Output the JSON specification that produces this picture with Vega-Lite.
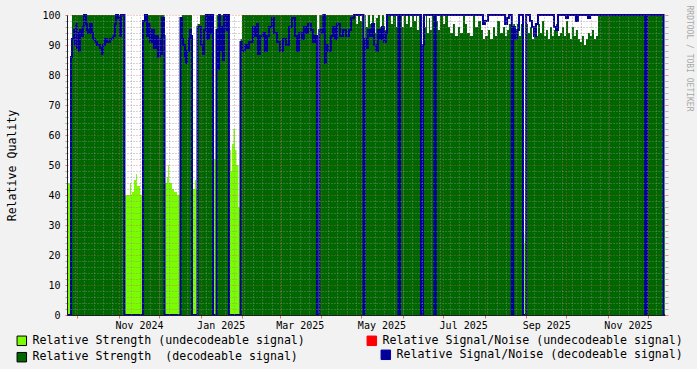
{
"$schema": "https://vega.github.io/schema/vega-lite/v6.json",
"width": 598, "height": 300,
"autosize": "none",
"padding": {"left": 67, "top": 15, "right": 32, "bottom": 54},
"background": "#f2f2f2",
"config": {"view": {"fill": "#ffffff", "stroke": null}, "font": "DejaVu Sans Mono"},
"data": {"values": [
{"t":"2024-09-23T05:00","w":44,"s":0,"n":0},
{"t":"2024-09-26T05:00","w":0,"s":86,"n":86},
{"t":"2024-09-26T22:00","w":0,"s":100,"n":92},
{"t":"2024-09-28T10:00","w":0,"s":100,"n":95},
{"t":"2024-09-29T05:00","w":0,"s":100,"n":90},
{"t":"2024-09-29T22:00","w":0,"s":100,"n":97},
{"t":"2024-09-30T14:00","w":0,"s":100,"n":89},
{"t":"2024-10-01T10:00","w":0,"s":100,"n":94},
{"t":"2024-10-02T02:00","w":0,"s":100,"n":88},
{"t":"2024-10-02T22:00","w":0,"s":100,"n":95},
{"t":"2024-10-04T10:00","w":0,"s":100,"n":93},
{"t":"2024-10-05T02:00","w":0,"s":100,"n":96},
{"t":"2024-10-05T22:00","w":0,"s":100,"n":100},
{"t":"2024-10-07T10:00","w":0,"s":100,"n":97},
{"t":"2024-10-08T02:00","w":0,"s":100,"n":95},
{"t":"2024-10-08T22:00","w":0,"s":100,"n":94},
{"t":"2024-10-10T10:00","w":0,"s":100,"n":97},
{"t":"2024-10-11T19:00","w":0,"s":100,"n":94},
{"t":"2024-10-12T14:00","w":0,"s":100,"n":92},
{"t":"2024-10-14T02:00","w":0,"s":100,"n":91},
{"t":"2024-10-15T14:00","w":0,"s":100,"n":90},
{"t":"2024-10-17T19:00","w":0,"s":100,"n":89},
{"t":"2024-10-19T07:00","w":0,"s":100,"n":87},
{"t":"2024-10-20T02:00","w":0,"s":100,"n":90},
{"t":"2024-10-21T12:00","w":0,"s":100,"n":92},
{"t":"2024-10-23T00:00","w":0,"s":100,"n":91},
{"t":"2024-10-25T07:00","w":0,"s":100,"n":92},
{"t":"2024-10-27T12:00","w":0,"s":100,"n":93},
{"t":"2024-10-29T00:00","w":0,"s":100,"n":97},
{"t":"2024-10-29T19:00","w":0,"s":100,"n":100},
{"t":"2024-10-31T07:00","w":0,"s":100,"n":99},
{"t":"2024-11-01T18:00","w":0,"s":100,"n":93},
{"t":"2024-11-02T12:00","w":0,"s":100,"n":100},
{"t":"2024-11-05T02:00","w":40,"s":0,"n":0},
{"t":"2024-11-09T05:00","w":44,"s":0,"n":0},
{"t":"2024-11-10T00:00","w":40,"s":0,"n":0},
{"t":"2024-11-10T17:00","w":41,"s":0,"n":0},
{"t":"2024-11-12T05:00","w":45,"s":0,"n":0},
{"t":"2024-11-13T17:00","w":47,"s":0,"n":0},
{"t":"2024-11-14T10:00","w":43,"s":0,"n":0},
{"t":"2024-11-16T17:00","w":40,"s":0,"n":0},
{"t":"2024-11-18T05:00","w":44,"s":0,"n":0},
{"t":"2024-11-18T22:00","w":0,"s":98,"n":98},
{"t":"2024-11-20T10:00","w":0,"s":100,"n":100},
{"t":"2024-11-21T22:00","w":0,"s":100,"n":93},
{"t":"2024-11-23T10:00","w":0,"s":100,"n":97},
{"t":"2024-11-24T02:00","w":0,"s":100,"n":91},
{"t":"2024-11-25T14:00","w":0,"s":100,"n":95},
{"t":"2024-11-27T02:00","w":0,"s":100,"n":89},
{"t":"2024-11-28T14:00","w":0,"s":100,"n":93},
{"t":"2024-11-30T02:00","w":0,"s":100,"n":86},
{"t":"2024-12-01T14:00","w":0,"s":100,"n":92},
{"t":"2024-12-02T10:00","w":0,"s":100,"n":87},
{"t":"2024-12-03T02:00","w":0,"s":100,"n":99},
{"t":"2024-12-04T14:00","w":0,"s":100,"n":93},
{"t":"2024-12-05T00:00","w":44,"s":0,"n":0},
{"t":"2024-12-06T19:00","w":46,"s":0,"n":0},
{"t":"2024-12-07T14:00","w":50,"s":0,"n":0},
{"t":"2024-12-08T07:00","w":44,"s":0,"n":0},
{"t":"2024-12-10T14:00","w":42,"s":0,"n":0},
{"t":"2024-12-12T02:00","w":41,"s":0,"n":0},
{"t":"2024-12-14T07:00","w":40,"s":0,"n":0},
{"t":"2024-12-16T22:00","w":0,"s":98,"n":99},
{"t":"2024-12-18T00:00","w":0,"s":100,"n":92},
{"t":"2024-12-18T19:00","w":0,"s":100,"n":90},
{"t":"2024-12-20T07:00","w":0,"s":100,"n":86},
{"t":"2024-12-21T00:00","w":0,"s":100,"n":84},
{"t":"2024-12-21T19:00","w":0,"s":100,"n":88},
{"t":"2024-12-23T07:00","w":0,"s":100,"n":92},
{"t":"2024-12-24T00:00","w":0,"s":100,"n":95},
{"t":"2024-12-24T17:00","w":0,"s":100,"n":93},
{"t":"2024-12-25T12:00","w":42,"s":0,"n":0},
{"t":"2024-12-27T17:00","w":45,"s":0,"n":0},
{"t":"2024-12-28T12:00","w":42,"s":0,"n":0},
{"t":"2024-12-29T14:00","w":0,"s":97,"n":96},
{"t":"2024-12-31T12:00","w":0,"s":100,"n":96},
{"t":"2025-01-01T05:00","w":0,"s":100,"n":90},
{"t":"2025-01-02T17:00","w":0,"s":100,"n":87},
{"t":"2025-01-03T12:00","w":0,"s":100,"n":95},
{"t":"2025-01-04T22:00","w":0,"s":100,"n":100},
{"t":"2025-01-05T17:00","w":0,"s":100,"n":92},
{"t":"2025-01-07T05:00","w":0,"s":100,"n":100},
{"t":"2025-01-07T22:00","w":0,"s":100,"n":94},
{"t":"2025-01-09T10:00","w":0,"s":100,"n":100},
{"t":"2025-01-10T05:00","w":58,"s":0,"n":0},
{"t":"2025-01-10T22:00","w":52,"s":0,"n":0},
{"t":"2025-01-12T19:00","w":0,"s":100,"n":95},
{"t":"2025-01-13T22:00","w":0,"s":100,"n":82},
{"t":"2025-01-14T17:00","w":0,"s":100,"n":100},
{"t":"2025-01-15T10:00","w":0,"s":100,"n":88},
{"t":"2025-01-16T22:00","w":0,"s":100,"n":96},
{"t":"2025-01-17T14:00","w":0,"s":100,"n":85},
{"t":"2025-01-18T10:00","w":0,"s":100,"n":100},
{"t":"2025-01-19T22:00","w":0,"s":100,"n":95},
{"t":"2025-01-20T14:00","w":0,"s":100,"n":100},
{"t":"2025-01-22T02:00","w":55,"s":0,"n":0},
{"t":"2025-01-23T14:00","w":48,"s":0,"n":0},
{"t":"2025-01-24T10:00","w":57,"s":0,"n":0},
{"t":"2025-01-25T12:00","w":62,"s":0,"n":0},
{"t":"2025-01-26T14:00","w":55,"s":0,"n":0},
{"t":"2025-01-27T17:00","w":50,"s":0,"n":0},
{"t":"2025-01-29T05:00","w":36,"s":0,"n":0},
{"t":"2025-01-30T17:00","w":0,"s":92,"n":91},
{"t":"2025-01-31T19:00","w":0,"s":100,"n":88},
{"t":"2025-02-03T00:00","w":0,"s":100,"n":90},
{"t":"2025-02-04T12:00","w":0,"s":100,"n":89},
{"t":"2025-02-06T00:00","w":0,"s":100,"n":91},
{"t":"2025-02-09T00:00","w":0,"s":100,"n":96},
{"t":"2025-02-10T12:00","w":0,"s":100,"n":93},
{"t":"2025-02-12T00:00","w":0,"s":100,"n":97},
{"t":"2025-02-12T19:00","w":0,"s":100,"n":87},
{"t":"2025-02-14T07:00","w":0,"s":100,"n":93},
{"t":"2025-02-16T12:00","w":0,"s":100,"n":94},
{"t":"2025-02-18T00:00","w":0,"s":100,"n":88},
{"t":"2025-02-19T12:00","w":0,"s":100,"n":93},
{"t":"2025-02-21T00:00","w":0,"s":100,"n":96},
{"t":"2025-02-23T05:00","w":0,"s":100,"n":99},
{"t":"2025-02-24T17:00","w":0,"s":100,"n":94},
{"t":"2025-02-27T00:00","w":0,"s":100,"n":91},
{"t":"2025-03-01T05:00","w":0,"s":100,"n":88},
{"t":"2025-03-03T10:00","w":0,"s":100,"n":92},
{"t":"2025-03-05T17:00","w":0,"s":100,"n":90},
{"t":"2025-03-07T22:00","w":0,"s":100,"n":96},
{"t":"2025-03-10T02:00","w":0,"s":100,"n":99},
{"t":"2025-03-12T10:00","w":0,"s":100,"n":93},
{"t":"2025-03-13T22:00","w":0,"s":100,"n":88},
{"t":"2025-03-15T10:00","w":0,"s":100,"n":94},
{"t":"2025-03-17T14:00","w":0,"s":100,"n":92},
{"t":"2025-03-19T02:00","w":0,"s":100,"n":96},
{"t":"2025-03-20T14:00","w":0,"s":100,"n":94},
{"t":"2025-03-22T02:00","w":0,"s":100,"n":97},
{"t":"2025-03-24T07:00","w":0,"s":100,"n":95},
{"t":"2025-03-25T19:00","w":0,"s":100,"n":91},
{"t":"2025-03-27T07:00","w":0,"s":100,"n":93},
{"t":"2025-03-28T19:00","w":44,"s":0,"n":0},
{"t":"2025-03-29T14:00","w":38,"s":0,"n":0},
{"t":"2025-03-30T12:00","w":0,"s":100,"n":95},
{"t":"2025-04-01T12:00","w":0,"s":100,"n":94},
{"t":"2025-04-02T14:00","w":0,"s":100,"n":100},
{"t":"2025-04-03T17:00","w":0,"s":100,"n":84},
{"t":"2025-04-04T12:00","w":0,"s":100,"n":90},
{"t":"2025-04-06T00:00","w":0,"s":100,"n":88},
{"t":"2025-04-08T05:00","w":0,"s":100,"n":93},
{"t":"2025-04-09T17:00","w":0,"s":100,"n":96},
{"t":"2025-04-11T05:00","w":0,"s":100,"n":92},
{"t":"2025-04-12T17:00","w":0,"s":100,"n":97},
{"t":"2025-04-15T00:00","w":0,"s":100,"n":93},
{"t":"2025-04-17T05:00","w":0,"s":100,"n":95},
{"t":"2025-04-19T12:00","w":0,"s":100,"n":93},
{"t":"2025-04-21T17:00","w":0,"s":100,"n":95},
{"t":"2025-04-23T05:00","w":0,"s":100,"n":99},
{"t":"2025-04-25T12:00","w":0,"s":100,"n":100},
{"t":"2025-04-26T22:00","w":0,"s":97,"n":100},
{"t":"2025-04-28T10:00","w":0,"s":100,"n":100},
{"t":"2025-04-29T22:00","w":0,"s":98,"n":100},
{"t":"2025-05-01T10:00","w":0,"s":100,"n":100},
{"t":"2025-05-02T12:00","w":0,"s":81,"n":0},
{"t":"2025-05-03T10:00","w":0,"s":100,"n":92},
{"t":"2025-05-04T07:00","w":0,"s":96,"n":89},
{"t":"2025-05-05T19:00","w":0,"s":100,"n":95},
{"t":"2025-05-07T10:00","w":0,"s":97,"n":93},
{"t":"2025-05-08T22:00","w":0,"s":100,"n":97},
{"t":"2025-05-10T10:00","w":0,"s":94,"n":90},
{"t":"2025-05-11T22:00","w":0,"s":99,"n":88},
{"t":"2025-05-13T07:00","w":0,"s":100,"n":95},
{"t":"2025-05-14T19:00","w":0,"s":96,"n":92},
{"t":"2025-05-16T07:00","w":0,"s":100,"n":96},
{"t":"2025-05-17T19:00","w":0,"s":95,"n":91},
{"t":"2025-05-19T07:00","w":0,"s":100,"n":94},
{"t":"2025-05-20T02:00","w":0,"s":100,"n":100},
{"t":"2025-05-23T00:00","w":0,"s":97,"n":100},
{"t":"2025-05-24T12:00","w":0,"s":100,"n":100},
{"t":"2025-05-26T19:00","w":0,"s":96,"n":100},
{"t":"2025-05-27T22:00","w":0,"s":100,"n":100},
{"t":"2025-05-28T14:00","w":0,"s":34,"n":0},
{"t":"2025-05-29T19:00","w":0,"s":100,"n":100},
{"t":"2025-05-31T05:00","w":0,"s":96,"n":100},
{"t":"2025-06-01T17:00","w":0,"s":100,"n":100},
{"t":"2025-06-03T05:00","w":0,"s":97,"n":100},
{"t":"2025-06-04T17:00","w":0,"s":100,"n":100},
{"t":"2025-06-06T05:00","w":0,"s":96,"n":100},
{"t":"2025-06-07T17:00","w":0,"s":100,"n":100},
{"t":"2025-06-09T05:00","w":0,"s":98,"n":100},
{"t":"2025-06-10T17:00","w":0,"s":100,"n":100},
{"t":"2025-06-11T10:00","w":0,"s":95,"n":100},
{"t":"2025-06-12T22:00","w":0,"s":100,"n":100},
{"t":"2025-06-14T10:00","w":34,"s":0,"n":0},
{"t":"2025-06-15T22:00","w":0,"s":100,"n":90},
{"t":"2025-06-16T17:00","w":0,"s":96,"n":100},
{"t":"2025-06-18T05:00","w":0,"s":100,"n":100},
{"t":"2025-06-18T22:00","w":0,"s":94,"n":100},
{"t":"2025-06-20T10:00","w":0,"s":99,"n":100},
{"t":"2025-06-21T05:00","w":0,"s":95,"n":100},
{"t":"2025-06-22T17:00","w":0,"s":100,"n":100},
{"t":"2025-06-24T10:00","w":0,"s":100,"n":0},
{"t":"2025-06-25T12:00","w":0,"s":98,"n":100},
{"t":"2025-06-27T02:00","w":0,"s":95,"n":100},
{"t":"2025-06-28T14:00","w":0,"s":100,"n":100},
{"t":"2025-06-30T22:00","w":0,"s":97,"n":100},
{"t":"2025-07-02T10:00","w":0,"s":100,"n":100},
{"t":"2025-07-04T14:00","w":0,"s":96,"n":100},
{"t":"2025-07-06T02:00","w":0,"s":94,"n":100},
{"t":"2025-07-08T07:00","w":0,"s":97,"n":100},
{"t":"2025-07-09T19:00","w":0,"s":93,"n":100},
{"t":"2025-07-12T02:00","w":0,"s":96,"n":100},
{"t":"2025-07-13T14:00","w":0,"s":94,"n":100},
{"t":"2025-07-15T19:00","w":0,"s":100,"n":100},
{"t":"2025-07-17T07:00","w":0,"s":97,"n":100},
{"t":"2025-07-18T19:00","w":0,"s":94,"n":100},
{"t":"2025-07-21T00:00","w":0,"s":93,"n":100},
{"t":"2025-07-23T07:00","w":0,"s":100,"n":100},
{"t":"2025-07-24T19:00","w":0,"s":96,"n":100},
{"t":"2025-07-27T00:00","w":0,"s":98,"n":100},
{"t":"2025-07-29T05:00","w":0,"s":95,"n":100},
{"t":"2025-07-30T17:00","w":0,"s":92,"n":97},
{"t":"2025-08-01T05:00","w":0,"s":93,"n":98},
{"t":"2025-08-03T12:00","w":0,"s":95,"n":100},
{"t":"2025-08-05T00:00","w":0,"s":92,"n":100},
{"t":"2025-08-07T05:00","w":0,"s":96,"n":100},
{"t":"2025-08-08T17:00","w":0,"s":93,"n":100},
{"t":"2025-08-10T05:00","w":0,"s":98,"n":100},
{"t":"2025-08-12T10:00","w":0,"s":94,"n":100},
{"t":"2025-08-14T17:00","w":0,"s":96,"n":100},
{"t":"2025-08-16T05:00","w":0,"s":93,"n":97},
{"t":"2025-08-17T17:00","w":0,"s":95,"n":99},
{"t":"2025-08-19T02:00","w":0,"s":97,"n":100},
{"t":"2025-08-21T05:00","w":0,"s":95,"n":0},
{"t":"2025-08-22T07:00","w":0,"s":97,"n":96},
{"t":"2025-08-23T14:00","w":0,"s":94,"n":92},
{"t":"2025-08-25T02:00","w":0,"s":97,"n":95},
{"t":"2025-08-26T14:00","w":0,"s":93,"n":100},
{"t":"2025-08-28T02:00","w":0,"s":97,"n":100},
{"t":"2025-08-29T14:00","w":27,"s":0,"n":0},
{"t":"2025-08-30T17:00","w":24,"s":0,"n":0},
{"t":"2025-08-31T22:00","w":0,"s":97,"n":100},
{"t":"2025-09-02T07:00","w":0,"s":94,"n":100},
{"t":"2025-09-03T19:00","w":0,"s":96,"n":98},
{"t":"2025-09-05T07:00","w":0,"s":92,"n":96},
{"t":"2025-09-06T19:00","w":0,"s":95,"n":93},
{"t":"2025-09-08T07:00","w":0,"s":93,"n":97},
{"t":"2025-09-09T19:00","w":0,"s":97,"n":100},
{"t":"2025-09-11T07:00","w":0,"s":94,"n":100},
{"t":"2025-09-12T19:00","w":0,"s":98,"n":100},
{"t":"2025-09-14T07:00","w":0,"s":93,"n":100},
{"t":"2025-09-15T19:00","w":0,"s":95,"n":100},
{"t":"2025-09-17T05:00","w":0,"s":92,"n":100},
{"t":"2025-09-18T17:00","w":0,"s":96,"n":100},
{"t":"2025-09-20T05:00","w":0,"s":93,"n":100},
{"t":"2025-09-21T17:00","w":0,"s":95,"n":96},
{"t":"2025-09-23T05:00","w":0,"s":97,"n":95},
{"t":"2025-09-24T17:00","w":0,"s":93,"n":100},
{"t":"2025-09-26T05:00","w":0,"s":94,"n":100},
{"t":"2025-09-27T17:00","w":0,"s":96,"n":100},
{"t":"2025-09-29T05:00","w":0,"s":93,"n":100},
{"t":"2025-09-30T17:00","w":0,"s":98,"n":99},
{"t":"2025-10-02T05:00","w":0,"s":94,"n":100},
{"t":"2025-10-03T17:00","w":0,"s":92,"n":100},
{"t":"2025-10-05T02:00","w":0,"s":96,"n":100},
{"t":"2025-10-06T14:00","w":0,"s":93,"n":100},
{"t":"2025-10-08T02:00","w":0,"s":95,"n":98},
{"t":"2025-10-09T14:00","w":0,"s":92,"n":100},
{"t":"2025-10-11T02:00","w":0,"s":91,"n":100},
{"t":"2025-10-12T14:00","w":0,"s":93,"n":100},
{"t":"2025-10-14T02:00","w":0,"s":90,"n":100},
{"t":"2025-10-15T14:00","w":0,"s":92,"n":100},
{"t":"2025-10-17T02:00","w":0,"s":94,"n":99},
{"t":"2025-10-18T14:00","w":0,"s":93,"n":100},
{"t":"2025-10-20T02:00","w":0,"s":95,"n":100},
{"t":"2025-10-21T14:00","w":0,"s":92,"n":100},
{"t":"2025-10-23T02:00","w":0,"s":93,"n":100},
{"t":"2025-10-24T14:00","w":0,"s":100,"n":100},
{"t":"2025-11-28T17:00","w":0,"s":100,"n":0},
{"t":"2025-11-30T05:00","w":0,"s":100,"n":100},
{"t":"2025-12-12T12:00","w":40,"s":0,"n":0},
{"t":"2025-12-13T05:00","w":36,"s":0,"n":0},
{"t":"2025-12-13T14:00","w":36,"s":0,"n":0}
]},
"layer": [
{
"mark": {"type": "area", "interpolate": "step-after"},
"encoding": {
"x": {"field": "t", "type": "temporal",
 "scale": {"domain": [{"year": 2024, "month": 9, "date": 23, "hours": 5}, {"year": 2025, "month": 12, "date": 13, "hours": 14}]},
 "axis": {"orient": "bottom", "tickCount": {"interval": "month", "step": 1}, "grid": true, "gridColor": "rgba(222,80,80,0.6)", "gridDash": [1, 2], "gridWidth": 1, "domainColor": "#1f1f1f", "domainWidth": 1, "tickColor": "rgba(222,80,80,0.8)", "tickSize": 3, "labelExpr": "month(datum.value) % 2 == 0 ? timeFormat(datum.value, '%b %Y') : ''", "labelOffset": 20, "labelFlush": false, "labelOverlap": false, "labelBound": false, "labelFont": "DejaVu Sans Mono", "labelFontSize": 10, "labelColor": "#000000", "labelPadding": 2, "title": null, "zindex": 1}},
"y": {"field": "w", "type": "quantitative",
 "scale": {"domain": [0, 100], "nice": false, "zero": true},
 "axis": {"orient": "left", "values": [0,2,4,6,8,10,12,14,16,18,20,22,24,26,28,30,32,34,36,38,40,42,44,46,48,50,52,54,56,58,60,62,64,66,68,70,72,74,76,78,80,82,84,86,88,90,92,94,96,98,100],
  "grid": true, "gridColor": {"condition": {"test": "datum.value % 10 == 0", "value": "rgba(222,80,80,0.6)"}, "value": "rgba(143,143,143,0.75)"}, "gridDash": [1, 2], "gridWidth": 1,
  "tickColor": {"condition": {"test": "datum.value % 10 == 0", "value": "rgba(222,80,80,0.8)"}, "value": "rgba(143,143,143,0.75)"}, "tickSize": 2,
  "labelExpr": "datum.value % 10 == 0 ? datum.label : ''", "labelOverlap": false, "labelPadding": 5, "labelFont": "DejaVu Sans Mono", "labelFontSize": 10, "labelColor": "#000000",
  "domainColor": "#1f1f1f", "domainWidth": 1,
  "title": "Relative Quality", "titleFont": "DejaVu Sans Mono", "titleFontSize": 11.6, "titleFontWeight": "normal", "titleColor": "#000000", "titleAngle": -90, "titleX": -55, "titleY": 150, "titleAlign": "center", "titleBaseline": "middle", "zindex": 1}},
"fill": {"datum": "Relative Strength (undecodeable signal)",
 "scale": {"domain": ["Relative Strength (undecodeable signal)", "Relative Strength \u00a0(decodeable signal)"], "range": ["#7cfc00", "#006600"]},
 "legend": {"orient": "none", "legendX": -51, "legendY": 320, "title": null, "padding": 0, "direction": "vertical", "symbolType": "square", "symbolSize": 90, "symbolOpacity": 1, "symbolStrokeColor": "#000000", "symbolStrokeWidth": 1, "labelFont": "DejaVu Sans Mono", "labelFontSize": 11.6, "labelColor": "#000000", "labelOffset": 5, "labelLimit": 500, "rowPadding": 2.4,
  "encode": {"symbols": {"update": {"stroke": {"value": "#000000"}, "strokeWidth": {"value": 1}}}}}}
}
},
{
"mark": {"type": "area", "interpolate": "step-after"},
"encoding": {
"x": {"field": "t", "type": "temporal",
 "axis": {"orient": "top", "tickCount": {"interval": "week", "step": 1}, "grid": true, "gridColor": "rgba(143,143,143,0.75)", "gridDash": [1, 2], "gridWidth": 1, "labels": false, "ticks": false, "domain": false, "title": null, "zindex": 1}},
"y": {"field": "s", "type": "quantitative",
 "axis": {"orient": "right", "values": [0,2,4,6,8,10,12,14,16,18,20,22,24,26,28,30,32,34,36,38,40,42,44,46,48,50,52,54,56,58,60,62,64,66,68,70,72,74,76,78,80,82,84,86,88,90,92,94,96,98,100],
  "grid": false, "labels": false, "domain": false, "ticks": true, "tickSize": 3,
  "tickColor": {"condition": {"test": "datum.value % 10 == 0", "value": "rgba(222,80,80,0.6)"}, "value": "rgba(143,143,143,0.6)"},
  "title": "RRDTOOL / TOBI OETIKER", "titleFont": "DejaVu Sans Mono", "titleFontSize": 8, "titleFontWeight": "normal", "titleColor": "#a8a8a8", "titleAngle": 90, "titleX": 23, "titleY": -10, "titleAlign": "left", "titleBaseline": "middle", "zindex": 1}},
"fill": {"datum": "Relative Strength \u00a0(decodeable signal)"}
}
},
{
"mark": {"type": "line", "interpolate": "step-after", "strokeWidth": 2},
"encoding": {
"x": {"field": "t", "type": "temporal", "axis": null},
"y": {"field": "n", "type": "quantitative", "axis": null},
"stroke": {"datum": "Relative Signal/Noise (decodeable signal)",
 "scale": {"domain": ["Relative Signal/Noise (decodeable signal)"], "range": ["#000099"]},
 "legend": {"orient": "none", "legendX": 313, "legendY": 334, "title": null, "padding": 0, "symbolType": "square", "symbolSize": 90, "labelFont": "DejaVu Sans Mono", "labelFontSize": 11.6, "labelColor": "#000000", "labelOffset": 5, "labelLimit": 500,
  "encode": {"symbols": {"update": {"fill": {"value": "#000099"}, "stroke": {"value": "#000000"}, "strokeWidth": {"value": 1}, "shape": {"value": "square"}, "opacity": {"value": 1}}}}}}
}
},
{
"data": {"values": []},
"mark": {"type": "line"},
"encoding": {
"x": {"field": "t", "type": "temporal", "axis": null},
"y": {"field": "n", "type": "quantitative", "axis": null},
"color": {"datum": "Relative Signal/Noise (undecodeable signal)",
 "scale": {"domain": ["Relative Signal/Noise (undecodeable signal)"], "range": ["#ff0000"]},
 "legend": {"orient": "none", "legendX": 299, "legendY": 320, "title": null, "padding": 0, "symbolType": "square", "symbolSize": 90, "labelFont": "DejaVu Sans Mono", "labelFontSize": 11.6, "labelColor": "#000000", "labelOffset": 5, "labelLimit": 500,
  "encode": {"symbols": {"update": {"fill": {"value": "#ff0000"}, "stroke": {"value": "#000000"}, "strokeWidth": {"value": 1}, "shape": {"value": "square"}, "opacity": {"value": 1}}}}}}
}
}
],
"resolve": {"axis": {"x": "independent", "y": "independent"}}
}
